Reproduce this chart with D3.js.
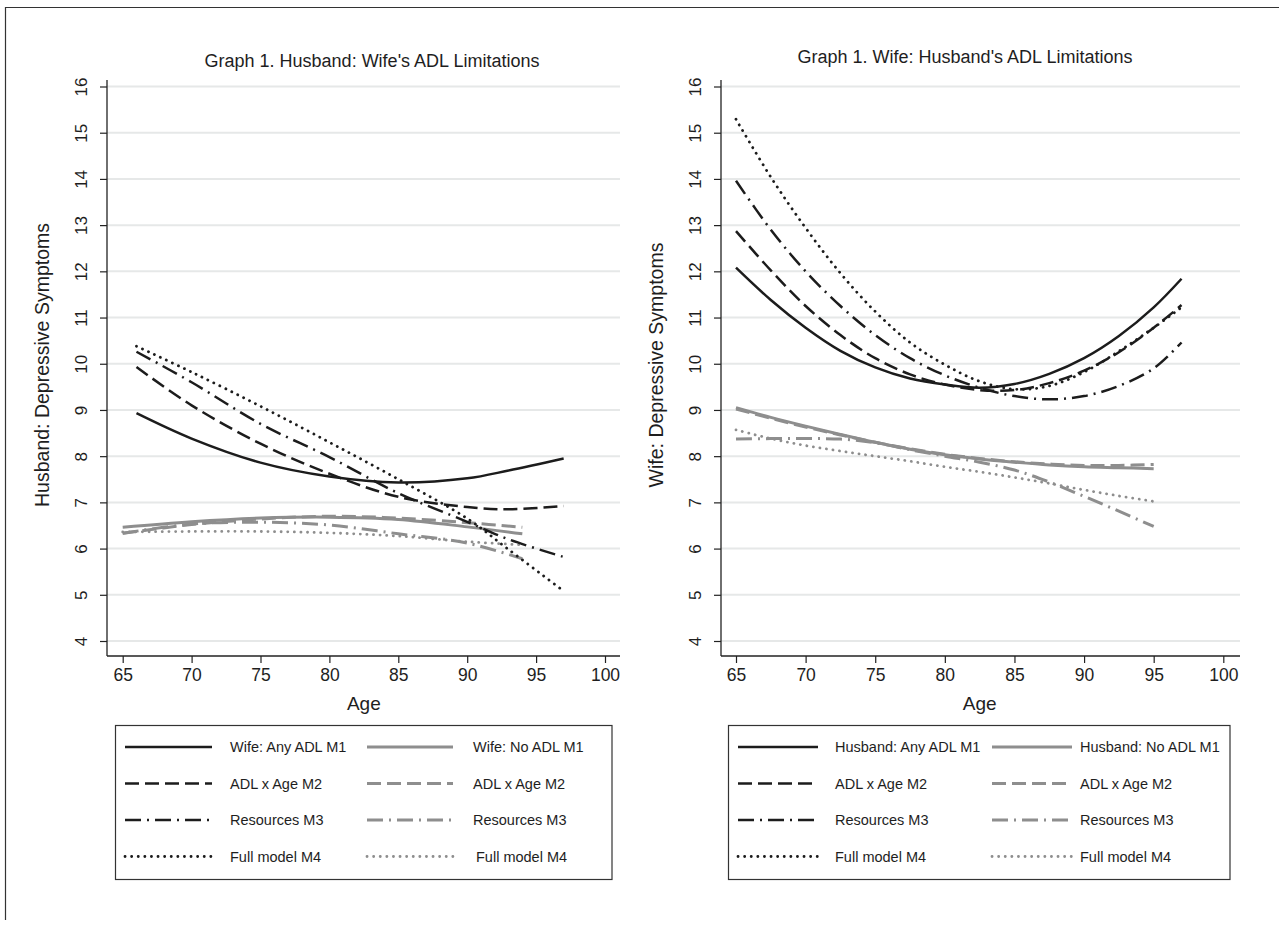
<!DOCTYPE html>
<html><head><meta charset="utf-8">
<script src="https://cdn.jsdelivr.net/npm/d3@7/dist/d3.min.js"></script>
<style>
body{margin:0;background:#fff}
text{font-family:"Liberation Sans",Arial,Helvetica,sans-serif;fill:#1e1e1e}
</style>
</head><body>
<svg id="chart" width="1279" height="926"></svg>
<script>
// ---------------- DATA ----------------
const yTickValues = [4,5,6,7,8,9,10,11,12,13,14,15,16];
const xTickValues = [65,70,75,80,85,90,95,100];

const leftTitle = "Graph 1. Husband: Wife's ADL Limitations";
const leftYLabel = "Husband: Depressive Symptoms";
const rightTitle = "Graph 1. Wife: Husband's ADL Limitations";
const rightYLabel = "Wife: Depressive Symptoms";
const xLabel = "Age";

const leftLegendBlack = ["Wife: Any ADL M1","ADL x Age M2","Resources M3","Full model M4"];
const leftLegendGray  = ["Wife: No ADL M1","ADL x Age M2","Resources M3","Full model M4"];
const rightLegendBlack = ["Husband: Any ADL M1","ADL x Age M2","Resources M3","Full model M4"];
const rightLegendGray  = ["Husband: No ADL M1","ADL x Age M2","Resources M3","Full model M4"];

// Left panel: husband's depressive symptoms
const leftAgesAny = [66, 70, 75, 80, 85, 90, 93, 97];
const leftAnyM1 = [8.93, 8.38, 7.86, 7.56, 7.43, 7.52, 7.69, 7.95];
const leftAnyM2 = [9.93, 9.10, 8.27, 7.62, 7.12, 6.90, 6.85, 6.92];
const leftAnyM3 = [10.26, 9.60, 8.70, 7.98, 7.20, 6.58, 6.20, 5.82];
const leftAnyM4 = [10.38, 9.82, 9.08, 8.30, 7.50, 6.65, 5.98, 5.08];

const leftAgesNo = [65, 70, 75, 80, 85, 90, 94];
const leftNoM1 = [6.46, 6.58, 6.66, 6.68, 6.63, 6.47, 6.32];
const leftNoM2 = [6.33, 6.52, 6.64, 6.70, 6.66, 6.56, 6.46];
const leftNoM3 = [6.33, 6.53, 6.57, 6.51, 6.32, 6.12, 5.78];
const leftNoM4 = [6.36, 6.37, 6.37, 6.34, 6.27, 6.15, 6.08];

// Right panel: wife's depressive symptoms
const rightAgesAny = [65, 67.5, 70, 72.5, 75, 77.5, 80, 82.5, 85, 87.5, 90, 92.5, 95, 97];
const rightAnyM1 = [12.08, 11.38, 10.78, 10.28, 9.92, 9.68, 9.55, 9.48, 9.56, 9.78, 10.12, 10.60, 11.22, 11.84];
const rightAnyM2 = [12.87, 12.02, 11.25, 10.62, 10.12, 9.77, 9.55, 9.43, 9.43, 9.58, 9.85, 10.25, 10.78, 11.27];
const rightAnyM3 = [13.96, 12.90, 12.00, 11.25, 10.62, 10.12, 9.75, 9.48, 9.30, 9.23, 9.30, 9.52, 9.90, 10.46];
const rightAnyM4 = [15.29, 14.04, 12.94, 11.96, 11.13, 10.46, 9.98, 9.62, 9.45, 9.52, 9.82, 10.27, 10.78, 11.22];

const rightAgesNo = [65, 67.5, 70, 72.5, 75, 77.5, 80, 82.5, 85, 87.5, 90, 92.5, 95];
const rightNoM1 = [9.05, 8.84, 8.65, 8.47, 8.30, 8.15, 8.03, 7.94, 7.87, 7.81, 7.77, 7.75, 7.73];
const rightNoM2 = [9.02, 8.82, 8.63, 8.46, 8.30, 8.16, 8.04, 7.95, 7.88, 7.83, 7.80, 7.80, 7.82];
const rightNoM3 = [8.37, 8.38, 8.38, 8.37, 8.29, 8.14, 8.00, 7.87, 7.70, 7.44, 7.13, 6.81, 6.48];
const rightNoM4 = [8.57, 8.38, 8.23, 8.11, 8.00, 7.89, 7.77, 7.66, 7.54, 7.41, 7.27, 7.14, 7.02];

// ---------------- STYLE ----------------
const BLACK = "#1c1c1c", GRAY = "#8e8e8e";
const dashStyles = [
  {dash: null, cap: "butt"},
  {dash: "14,6", cap: "butt"},
  {dash: "16,6,2,6", cap: "butt"},
  {dash: "0.1,6.5", cap: "round"}
];

const svg = d3.select("#chart");

// outer frame
svg.append("path").attr("d","M5.5,920 L5.5,7.5 L1290,7.5")
  .attr("fill","none").attr("stroke","#333").attr("stroke-width",1.2);

function panel(cfg){
  const g = svg.append("g");
  const x = d3.scaleLinear().domain([65,100]).range([cfg.x65, cfg.x100]);
  const y = d3.scaleLinear().domain([4,16]).range([641, 86.5]);

  // gridlines
  g.append("g").selectAll("line").data(yTickValues).join("line")
    .attr("x1", cfg.axisX).attr("x2", cfg.right)
    .attr("y1", d=>y(d)).attr("y2", d=>y(d))
    .attr("stroke","#e6e8e8").attr("stroke-width",2);

  // y axis
  const ya = g.append("g").attr("transform",`translate(${cfg.axisX},0)`)
    .call(d3.axisLeft(y).tickValues(yTickValues).tickSize(7).tickSizeOuter(0).tickFormat(d3.format("d")));
  ya.select(".domain").attr("d",`M0,80V656`).attr("stroke","#222").attr("stroke-width",1.3);
  ya.selectAll(".tick line").attr("stroke","#222").attr("stroke-width",1.2);
  ya.selectAll(".tick text")
    .attr("transform","rotate(-90)").attr("x",0).attr("y",-20).attr("dy",0)
    .attr("text-anchor","middle").style("font-size","17px")
    .style("font-family",'"Liberation Sans",Arial,sans-serif').attr("fill","#1e1e1e");

  // x axis
  const xa = g.append("g").attr("transform",`translate(0,656)`)
    .call(d3.axisBottom(x).tickValues(xTickValues).tickSize(7).tickSizeOuter(0).tickFormat(d3.format("d")));
  xa.select(".domain").attr("d",`M${cfg.axisX},0H${cfg.right}`).attr("stroke","#222").attr("stroke-width",1.3);
  xa.selectAll(".tick line").attr("stroke","#222").attr("stroke-width",1.2);
  xa.selectAll(".tick text").attr("y",13).attr("dy","0.71em").style("font-size","17.5px")
    .style("font-family",'"Liberation Sans",Arial,sans-serif').attr("fill","#1e1e1e");

  // titles
  g.append("text").attr("x",cfg.titleX).attr("y",cfg.titleY).attr("text-anchor","middle")
    .style("font-size","18px").text(cfg.title);
  g.append("text").attr("transform",`translate(${cfg.axisX-58},365) rotate(-90)`)
    .attr("text-anchor","middle").style("font-size","19.5px").text(cfg.yLabel);
  g.append("text").attr("x",(cfg.x65+cfg.x100)/2).attr("y",710).attr("text-anchor","middle")
    .style("font-size","19px").text(xLabel);

  const line = d3.line().x(d=>x(d[0])).y(d=>y(d[1])).curve(d3.curveCatmullRom.alpha(0.5));

  // gray series first
  cfg.gray.forEach((vals,i)=>{
    g.append("path").datum(cfg.agesNo.map((a,j)=>[a,vals[j]]))
      .attr("d",line).attr("fill","none").attr("stroke",GRAY)
      .attr("stroke-width", i===3 ? 2.8 : 3)
      .attr("stroke-dasharray",dashStyles[i].dash).attr("stroke-linecap",dashStyles[i].cap);
  });
  cfg.black.forEach((vals,i)=>{
    g.append("path").datum(cfg.agesAny.map((a,j)=>[a,vals[j]]))
      .attr("d",line).attr("fill","none").attr("stroke",BLACK)
      .attr("stroke-width", i===3 ? 2.8 : 2.5)
      .attr("stroke-dasharray",dashStyles[i].dash).attr("stroke-linecap",dashStyles[i].cap);
  });

  // legend
  const L = cfg.legend;
  g.append("rect").attr("x",L.x0).attr("y",725.5).attr("width",L.x1-L.x0).attr("height",154)
    .attr("fill","none").attr("stroke","#333").attr("stroke-width",1.2);
  const rows = [747, 783.5, 820, 856.5];
  rows.forEach((ry,i)=>{
    g.append("line").attr("x1",L.bs).attr("x2",L.be).attr("y1",ry).attr("y2",ry)
      .attr("stroke",BLACK).attr("stroke-width",i===3?2.8:2.5)
      .attr("stroke-dasharray",dashStyles[i].dash).attr("stroke-linecap",dashStyles[i].cap);
    g.append("text").attr("x",L.bt).attr("y",ry+5).style("font-size","14.5px").text(cfg.legBlack[i]);
    g.append("line").attr("x1",L.gs).attr("x2",L.ge).attr("y1",ry).attr("y2",ry)
      .attr("stroke",GRAY).attr("stroke-width",i===3?2.8:3)
      .attr("stroke-dasharray",dashStyles[i].dash).attr("stroke-linecap",dashStyles[i].cap);
    g.append("text").attr("x",L.gt[i]).attr("y",ry+5).style("font-size","14.5px").text(cfg.legGray[i]);
  });
}

panel({
  x65:122.7, x100:605, axisX:107, right:620,
  title:leftTitle, titleX:372, titleY:67, yLabel:leftYLabel,
  agesAny:leftAgesAny, agesNo:leftAgesNo,
  black:[leftAnyM1,leftAnyM2,leftAnyM3,leftAnyM4],
  gray:[leftNoM1,leftNoM2,leftNoM3,leftNoM4],
  legBlack:leftLegendBlack, legGray:leftLegendGray,
  legend:{x0:115.5, x1:612, bs:125, be:212, bt:230, gs:367, ge:453, gt:[473,473,473,476]}
});
panel({
  x65:736, x100:1223.3, axisX:721, right:1240,
  title:rightTitle, titleX:965, titleY:63, yLabel:rightYLabel,
  agesAny:rightAgesAny, agesNo:rightAgesNo,
  black:[rightAnyM1,rightAnyM2,rightAnyM3,rightAnyM4],
  gray:[rightNoM1,rightNoM2,rightNoM3,rightNoM4],
  legBlack:rightLegendBlack, legGray:rightLegendGray,
  legend:{x0:728.5, x1:1230, bs:738, be:818, bt:835, gs:992, ge:1072, gt:[1080,1080,1080,1080]}
});
</script>
</body></html>
